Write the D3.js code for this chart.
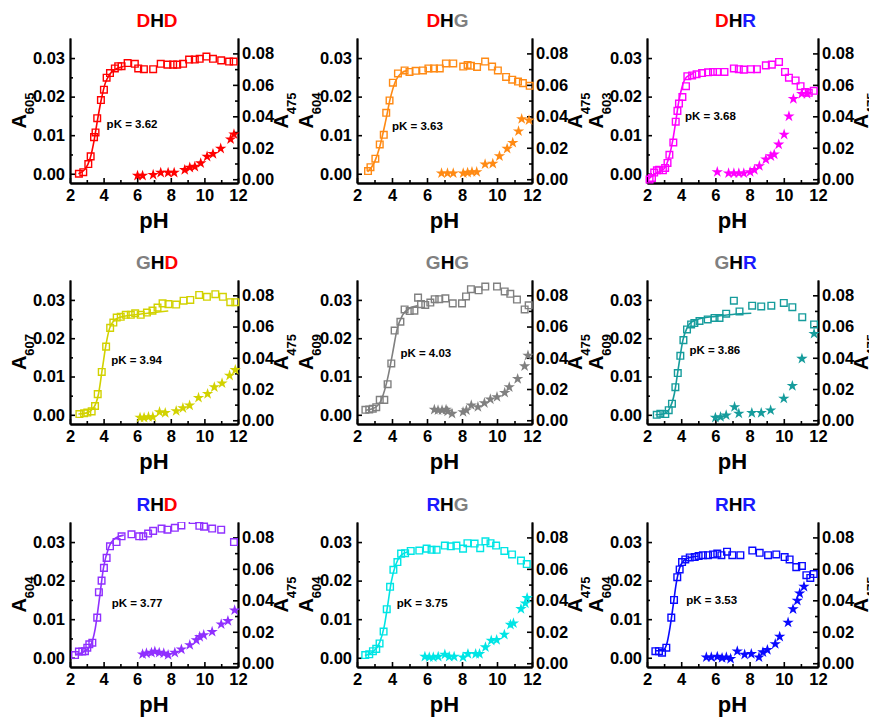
<!DOCTYPE html>
<html>
<head>
<meta charset="utf-8">
<script src="https://cdn.jsdelivr.net/npm/d3@7"></script>
<style>
    body { margin: 0; background: #fff; }
    text { font-family: "Liberation Sans", Arial, sans-serif; font-weight: bold; }
</style>
</head>
<body>
<script>
//  Chart size
var w = 869;
var h = 718;

//  Panel names, read left to right, top to bottom
var names = ["DHD", "DHG", "DHR", "GHD", "GHG", "GHR", "RHD", "RHG", "RHR"];
var wavelengths = ["605", "604", "603", "607", "609", "609", "604", "604", "604"];
var pKs = ["3.62", "3.63", "3.68", "3.94", "4.03", "3.86", "3.77", "3.75", "3.53"];

//  Tick values
var xTicks = [2, 4, 6, 8, 10, 12];
var xMinor = [3, 5, 7, 9, 11];
var leftTicks = [0, 0.01, 0.02, 0.03];
var leftMinor = [0.005, 0.015, 0.025];
var rightTicks = [0, 0.02, 0.04, 0.06, 0.08];
var rightMinor = [0.01, 0.03, 0.05, 0.07];

//  [pH, A] squares (left axis), fit line knots, stars (right axis, A475)
var dhdSquares = [[2.53,0.0000],[2.79,0.0004],[3.09,0.0025],[3.23,0.0045],[3.43,0.0095],[3.52,0.0107],[3.62,0.0144],[3.84,0.0191],[4.02,0.0218],[4.18,0.0249],[4.38,0.0261],[4.67,0.0273],[4.87,0.0279],[5.07,0.0279],[5.43,0.0287],[5.86,0.0285],[6.06,0.0273],[6.4,0.0271],[6.95,0.0271],[7.4,0.0285],[7.8,0.0283],[8.14,0.0283],[8.38,0.0283],[8.73,0.0285],[9.09,0.0296],[9.43,0.0296],[9.72,0.0298],[10.12,0.0304],[10.51,0.0298],[11.0,0.0294],[11.47,0.0291],[11.74,0.0291]];
var dhdFit = [[2.5,0.0],[2.9,0.0012],[3.2,0.004],[3.45,0.009],[3.62,0.0135],[3.85,0.019],[4.1,0.0235],[4.4,0.026],[4.8,0.0273],[5.2,0.0278]];
var dhdStars = [[6.02,0.0023],[6.32,0.0023],[6.95,0.0028],[7.4,0.0042],[7.84,0.0042],[8.2,0.0042],[8.83,0.0059],[9.13,0.0074],[9.43,0.008],[9.78,0.0102],[10.16,0.0144],[10.51,0.0161],[10.97,0.0195],[11.56,0.0254],[11.76,0.0286]];

var dhgSquares = [[2.63,0.0007],[2.77,0.0017],[3.05,0.0039],[3.3,0.0076],[3.53,0.0101],[3.67,0.0158],[3.86,0.019],[4.05,0.0236],[4.34,0.026],[4.72,0.0268],[5.0,0.0264],[5.35,0.0267],[5.77,0.0268],[6.08,0.0273],[6.4,0.0273],[6.73,0.0273],[7.08,0.0286],[7.5,0.0286],[8.07,0.0278],[8.32,0.0282],[8.51,0.028],[8.86,0.0277],[9.32,0.0291],[9.72,0.0278],[10.05,0.0268],[10.52,0.0251],[10.87,0.0244],[11.2,0.0239],[11.48,0.0235],[11.87,0.0228]];
var dhgFit = [[2.6,0.0005],[3.0,0.003],[3.3,0.007],[3.63,0.0135],[3.9,0.0195],[4.2,0.024],[4.5,0.026],[4.9,0.0268]];
var dhgStars = [[6.83,0.0038],[7.17,0.0038],[7.5,0.0038],[8.07,0.0038],[8.32,0.0042],[8.57,0.0046],[8.84,0.0046],[9.32,0.0095],[9.76,0.0099],[10.14,0.0147],[10.58,0.0194],[10.9,0.0232],[11.23,0.0305],[11.41,0.0383],[11.83,0.0375]];

var dhrSquares = [[2.15,-0.0015],[2.29,-0.0011],[2.42,0.0003],[2.58,0.0009],[2.71,0.001],[2.93,0.0009],[3.06,0.0015],[3.2,0.0028],[3.31,0.0049],[3.54,0.0081],[3.68,0.0135],[3.78,0.0163],[3.87,0.0182],[4.07,0.0199],[4.28,0.0227],[4.36,0.0253],[4.64,0.0255],[4.9,0.0258],[5.22,0.0261],[5.57,0.0263],[5.86,0.0264],[6.11,0.0264],[6.53,0.0264],[7.08,0.0273],[7.37,0.0271],[7.66,0.027],[8.08,0.0271],[8.43,0.0271],[8.95,0.0281],[9.3,0.0283],[9.72,0.029],[10.07,0.0264],[10.3,0.0249],[10.69,0.0242],[10.98,0.0227],[11.27,0.0212],[11.46,0.021],[11.75,0.0215]];
var dhrFit = [[2.1,-0.0013],[2.6,0.0003],[3.0,0.0013],[3.3,0.0045],[3.5,0.0085],[3.68,0.0135],[3.85,0.0185],[4.05,0.0225],[4.3,0.025],[4.7,0.026]];
var dhrStars = [[6.11,0.0046],[6.77,0.0038],[7.08,0.0038],[7.37,0.0038],[7.66,0.0038],[8.03,0.0046],[8.28,0.0059],[8.57,0.0084],[8.95,0.0126],[9.24,0.0147],[9.44,0.0158],[9.7,0.0221],[10.02,0.0284],[10.3,0.04],[10.56,0.0511],[11.05,0.0543],[11.36,0.0543]];

var ghdSquares = [[2.56,0.0002],[2.84,0.0004],[3.03,0.0006],[3.29,0.0009],[3.49,0.0023],[3.65,0.0054],[3.89,0.0112],[4.15,0.0178],[4.39,0.0227],[4.58,0.0241],[4.78,0.0254],[5.02,0.0256],[5.32,0.0261],[5.62,0.0261],[5.88,0.0265],[6.21,0.0261],[6.58,0.0267],[6.91,0.0272],[7.21,0.028],[7.51,0.0291],[7.86,0.0289],[8.32,0.0288],[8.76,0.0298],[9.16,0.03],[9.69,0.0313],[10.15,0.0308],[10.65,0.0315],[11.1,0.0308],[11.54,0.0294],[11.84,0.0294]];
var ghdFit = [[2.5,0.0002],[3.0,0.0005],[3.4,0.0018],[3.7,0.0055],[3.94,0.0125],[4.15,0.0185],[4.35,0.0225],[4.6,0.0245],[5.0,0.0255],[6.0,0.0262],[7.0,0.0267],[7.85,0.0271]];
var ghdStars = [[6.17,0.0017],[6.41,0.0017],[6.67,0.0021],[6.93,0.0021],[7.33,0.0053],[7.67,0.0047],[8.32,0.0059],[8.72,0.0078],[9.12,0.0095],[9.65,0.0144],[10.19,0.0169],[10.59,0.0212],[11.05,0.0237],[11.5,0.0286],[11.84,0.0322]];

var ghgSquares = [[2.48,0.0013],[2.7,0.0014],[2.9,0.0016],[3.1,0.002],[3.3,0.0039],[3.56,0.0039],[3.75,0.008],[3.96,0.0134],[4.15,0.022],[4.48,0.0243],[4.72,0.0275],[5.01,0.0271],[5.28,0.0272],[5.49,0.0306],[5.66,0.0289],[5.9,0.0287],[6.19,0.0293],[6.44,0.0302],[6.7,0.0302],[7.05,0.0304],[7.47,0.0291],[8.0,0.0291],[8.23,0.0309],[8.51,0.0328],[8.95,0.0325],[9.33,0.0335],[10.0,0.0335],[10.44,0.0322],[10.76,0.0316],[11.14,0.0301],[11.58,0.0275],[11.81,0.0286]];
var ghgFit = [[2.5,0.0012],[3.0,0.0018],[3.4,0.004],[3.75,0.0095],[4.03,0.016],[4.3,0.0225],[4.6,0.026],[5.0,0.0278],[5.5,0.0285]];
var ghgStars = [[6.42,0.0068],[6.63,0.0064],[6.86,0.0064],[7.09,0.0068],[7.18,0.0057],[7.43,0.0042],[8.06,0.0053],[8.25,0.0064],[8.53,0.0096],[8.91,0.0085],[9.28,0.011],[9.62,0.0134],[10.0,0.0149],[10.44,0.0176],[10.7,0.0212],[11.18,0.0265],[11.58,0.0346],[11.77,0.0414]];

var ghrSquares = [[2.57,0.0],[2.78,0.0003],[3.07,0.0002],[3.27,0.0012],[3.46,0.0029],[3.66,0.0072],[3.8,0.0109],[3.95,0.0154],[4.13,0.0195],[4.34,0.0223],[4.58,0.0236],[4.77,0.024],[5.07,0.0245],[5.55,0.0249],[5.95,0.0253],[6.24,0.0253],[6.63,0.0264],[7.08,0.0298],[7.41,0.027],[8.15,0.0285],[8.68,0.0283],[9.27,0.0285],[10.0,0.0292],[10.5,0.0281],[11.08,0.0255],[11.77,0.0236]];
var ghrFit = [[2.5,0.0],[3.0,0.0003],[3.3,0.0015],[3.6,0.0055],[3.86,0.013],[4.1,0.0195],[4.35,0.0228],[4.7,0.0245],[5.2,0.0252],[6.0,0.0257],[7.0,0.0262],[8.1,0.0265]];
var ghrStars = [[6.0,0.0017],[6.3,0.0021],[6.63,0.0032],[7.12,0.0085],[7.37,0.0043],[8.13,0.0047],[8.68,0.0047],[9.23,0.0064],[10.0,0.0139],[10.5,0.022],[11.06,0.0394],[11.77,0.0554]];

var rhdSquares = [[2.3,0.0007],[2.53,0.0016],[2.73,0.0016],[2.89,0.0017],[3.03,0.0026],[3.15,0.0035],[3.33,0.0039],[3.62,0.0104],[3.72,0.017],[3.88,0.02],[4.02,0.0233],[4.18,0.0259],[4.38,0.0289],[4.77,0.03],[5.07,0.0315],[5.66,0.032],[6.12,0.0315],[6.36,0.0315],[6.65,0.0322],[6.95,0.0329],[7.45,0.0335],[7.8,0.0332],[8.24,0.0337],[8.63,0.0343],[9.3,0.0357],[9.7,0.0342],[9.98,0.034],[10.46,0.0335],[11.0,0.0332],[11.76,0.03]];
var rhdFit = [[2.3,0.0008],[2.8,0.0015],[3.2,0.003],[3.5,0.0075],[3.77,0.016],[4.0,0.0235],[4.3,0.0285],[4.7,0.031],[5.2,0.0318]];
var rhdStars = [[6.32,0.0057],[6.55,0.0063],[6.85,0.0067],[7.05,0.0074],[7.31,0.0067],[7.58,0.0063],[7.84,0.0053],[8.24,0.0067],[8.63,0.0088],[9.13,0.0116],[9.52,0.0147],[9.72,0.0168],[9.96,0.0179],[10.46,0.02],[11.0,0.0248],[11.4,0.0269],[11.8,0.0337]];

var rhgSquares = [[2.47,0.0007],[2.7,0.0009],[2.91,0.0017],[3.1,0.0023],[3.29,0.0037],[3.52,0.0068],[3.7,0.0126],[3.89,0.0184],[4.08,0.0228],[4.31,0.0248],[4.52,0.027],[4.75,0.0271],[5.07,0.0277],[5.56,0.0278],[5.98,0.0283],[6.26,0.028],[6.55,0.028],[7.02,0.0291],[7.36,0.0289],[7.68,0.0291],[8.06,0.0283],[8.31,0.0297],[8.72,0.0296],[9.04,0.0284],[9.34,0.0302],[9.63,0.0297],[9.95,0.0291],[10.42,0.0277],[10.86,0.0268],[11.37,0.0252],[11.7,0.0243]];
var rhgFit = [[2.45,0.0006],[2.9,0.0015],[3.3,0.004],[3.55,0.008],[3.75,0.0135],[3.95,0.0195],[4.2,0.024],[4.5,0.0265],[4.9,0.0275]];
var rhgStars = [[5.88,0.0042],[6.13,0.0038],[6.36,0.0038],[6.64,0.0042],[7.02,0.0055],[7.27,0.0042],[7.55,0.0042],[8.06,0.0038],[8.34,0.0059],[8.78,0.0059],[9.0,0.0059],[9.34,0.0102],[9.67,0.0144],[9.98,0.0148],[10.42,0.0182],[10.77,0.0245],[10.94,0.0254],[11.37,0.0345],[11.62,0.0381],[11.72,0.0415]];

var rhrSquares = [[2.49,0.0017],[2.7,0.0017],[2.88,0.0013],[3.13,0.0026],[3.42,0.0104],[3.58,0.015],[3.77,0.0209],[3.91,0.0229],[4.05,0.0248],[4.24,0.0255],[4.5,0.026],[4.79,0.0261],[5.02,0.0264],[5.27,0.0266],[5.57,0.0266],[5.86,0.0268],[6.11,0.027],[6.35,0.0266],[6.68,0.0275],[6.99,0.0266],[7.46,0.0266],[8.16,0.0278],[8.59,0.0272],[9.08,0.0266],[9.56,0.0268],[10.05,0.0261],[10.34,0.0255],[10.73,0.0235],[11.06,0.0238],[11.32,0.0214],[11.55,0.0207],[11.75,0.0217]];
var rhrFit = [[2.5,0.0018],[2.9,0.0018],[3.15,0.0035],[3.35,0.008],[3.53,0.0135],[3.7,0.019],[3.9,0.0232],[4.15,0.0252],[4.5,0.026],[5.0,0.0263]];
var rhrStars = [[5.47,0.0038],[5.76,0.0038],[6.11,0.0042],[6.39,0.0034],[6.64,0.0038],[6.89,0.0028],[7.28,0.0076],[7.71,0.0055],[8.1,0.0059],[8.55,0.0038],[8.78,0.007],[9.04,0.0085],[9.5,0.0122],[9.76,0.0169],[10.25,0.0259],[10.54,0.0344],[10.79,0.0398],[10.93,0.0444],[11.18,0.0487]];

var squares = [dhdSquares, dhgSquares, dhrSquares, ghdSquares, ghgSquares, ghrSquares, rhdSquares, rhgSquares, rhrSquares];
var fits = [dhdFit, dhgFit, dhrFit, ghdFit, ghgFit, ghrFit, rhdFit, rhgFit, rhrFit];
var stars = [dhdStars, dhgStars, dhrStars, ghdStars, ghgStars, ghrStars, rhdStars, rhgStars, rhrStars];

//  Styles
var colors = ["#ff0000", "#ff8a14", "#ff00ff", "#d2d200", "#808080", "#169c9c", "#9030ff", "#00e5e5", "#0a0aff"];
var letterColors = { D: "#ff0000", H: "#000000", G: "#808080", R: "#1a1aff" };

//  Layout of the 3 x 3 grid
var colLeft = [70, 357, 647];
var colRight = [238, 532, 818];
var rowTop = [38, 280, 522];
var rowBottom = [183, 424, 667];
//  where the "pK = ..." label sits, in [pH, A] of each panel
var pkAt = [[4.18,0.0129],[4.0,0.0125],[4.22,0.015],[4.45,0.0142],[4.48,0.0162],[4.48,0.0169],[4.48,0.0142],[4.27,0.0143],[4.3,0.0151]];

var svg = d3.select("body")
    .append("svg")
    .attr("width", w)
    .attr("height", h);

var square = d3.symbol().type(d3.symbolSquare).size(44);
var star = d3.symbol().type(d3.symbolStar).size(40);

names.forEach(function(name, i) {
    var col = i % 3, row = Math.floor(i / 3);
    var l = colLeft[col], r = colRight[col], t = rowTop[row], b = rowBottom[row];
    var color = colors[i];

    var xScale = d3.scaleLinear().domain([2, 12]).range([l, r]);
    var yLeft = d3.scaleLinear().domain([-0.0024, 0.0352]).range([b, t]);
    var yRight = d3.scaleLinear().domain([-0.0024, 0.0898]).range([b, t]);

    var g = svg.append("g");

    //  clip the marks at the top of the frame
    g.append("clipPath")
        .attr("id", "clip" + i)
        .append("rect")
        .attr("x", l - 10)
        .attr("y", t)
        .attr("width", r - l + 20)
        .attr("height", b - t + 10);

    //  Axes, ticks pointing inward
    var xAxis = d3.axisBottom(xScale).tickValues(xTicks).tickSizeInner(-5).tickSizeOuter(0).tickPadding(6);
    var xAxisMinor = d3.axisBottom(xScale).tickValues(xMinor).tickSizeInner(-3).tickSizeOuter(0).tickFormat("");
    var lAxis = d3.axisLeft(yLeft).tickValues(leftTicks).tickFormat(d3.format(".2f")).tickSizeInner(-5).tickSizeOuter(0).tickPadding(5);
    var lAxisMinor = d3.axisLeft(yLeft).tickValues(leftMinor).tickSizeInner(-3).tickSizeOuter(0).tickFormat("");
    var rAxis = d3.axisRight(yRight).tickValues(rightTicks).tickFormat(d3.format(".2f")).tickSizeInner(-5).tickSizeOuter(0).tickPadding(4);
    var rAxisMinor = d3.axisRight(yRight).tickValues(rightMinor).tickSizeInner(-3).tickSizeOuter(0).tickFormat("");

    [[xAxis, "translate(0," + b + ")"], [xAxisMinor, "translate(0," + b + ")"],
     [lAxis, "translate(" + l + ",0)"], [lAxisMinor, "translate(" + l + ",0)"],
     [rAxis, "translate(" + r + ",0)"], [rAxisMinor, "translate(" + r + ",0)"]].forEach(function(a) {
        var ax = g.append("g").attr("transform", a[1]).call(a[0]);
        ax.selectAll("text").attr("font-size", 16.5).attr("fill", "#000")
            .style("font-family", '"Liberation Sans", Arial, sans-serif').style("font-weight", "bold");
        ax.selectAll("line").attr("stroke-width", 1.6);
        ax.select(".domain").attr("stroke-width", 1.8);
    });

    //  Fit line through the knots
    var line = d3.line()
        .x(function(d) { return xScale(d[0]); })
        .y(function(d) { return yLeft(d[1]); })
        .curve(d3.curveMonotoneX);

    var marks = g.append("g").attr("clip-path", "url(#clip" + i + ")");

    marks.append("path")
        .datum(fits[i])
        .attr("d", line)
        .attr("fill", "none")
        .attr("stroke", color)
        .attr("stroke-width", 1.6);

    //  Hollow squares on the left axis
    marks.selectAll(".sq")
        .data(squares[i])
        .enter()
        .append("path")
        .attr("d", square)
        .attr("transform", function(d) {
            return "translate(" + xScale(d[0]) + "," + yLeft(d[1]) + ")";
        })
        .attr("fill", "none")
        .attr("stroke", color)
        .attr("stroke-width", 1.4);

    //  Filled stars on the right axis
    marks.selectAll(".st")
        .data(stars[i])
        .enter()
        .append("path")
        .attr("d", star)
        .attr("transform", function(d) {
            return "translate(" + xScale(d[0]) + "," + yRight(d[1]) + ")";
        })
        .attr("fill", color);

    //  Title with coloured letters
    var title = g.append("text")
        .attr("x", (l + r) / 2 + 3)
        .attr("y", t - 11)
        .attr("text-anchor", "middle")
        .attr("font-size", 19);
    name.split("").forEach(function(c) {
        title.append("tspan").attr("fill", letterColors[c]).text(c);
    });

    //  pK label
    g.append("text")
        .attr("x", xScale(pkAt[i][0]))
        .attr("y", yLeft(pkAt[i][1]))
        .attr("dy", "0.35em")
        .attr("font-size", 11.5)
        .text("pK = " + pKs[i]);

    //  x-axis label
    g.append("text")
        .attr("x", (l + r) / 2)
        .attr("y", b + 45)
        .attr("text-anchor", "middle")
        .attr("font-size", 22)
        .text("pH");

    //  Left y label A_wavelength
    var yl = g.append("text")
        .attr("transform", "translate(" + (l - 44) + "," + ((t + b) / 2) + ") rotate(-90)")
        .attr("text-anchor", "middle")
        .attr("font-size", 20);
    yl.append("tspan").text("A");
    yl.append("tspan").attr("font-size", 13).attr("dy", 8).text(wavelengths[i]);

    //  Right y label A475 (the last column runs off the page edge, as in the source figure)
    var yr = g.append("text")
        .attr("transform", "translate(" + (r + 50) + "," + ((t + b) / 2) + ") rotate(-90)")
        .attr("text-anchor", "middle")
        .attr("font-size", 20);
    yr.append("tspan").text("A");
    yr.append("tspan").attr("font-size", 13).attr("dy", 8).text("475");
});
</script>
</body>
</html>
